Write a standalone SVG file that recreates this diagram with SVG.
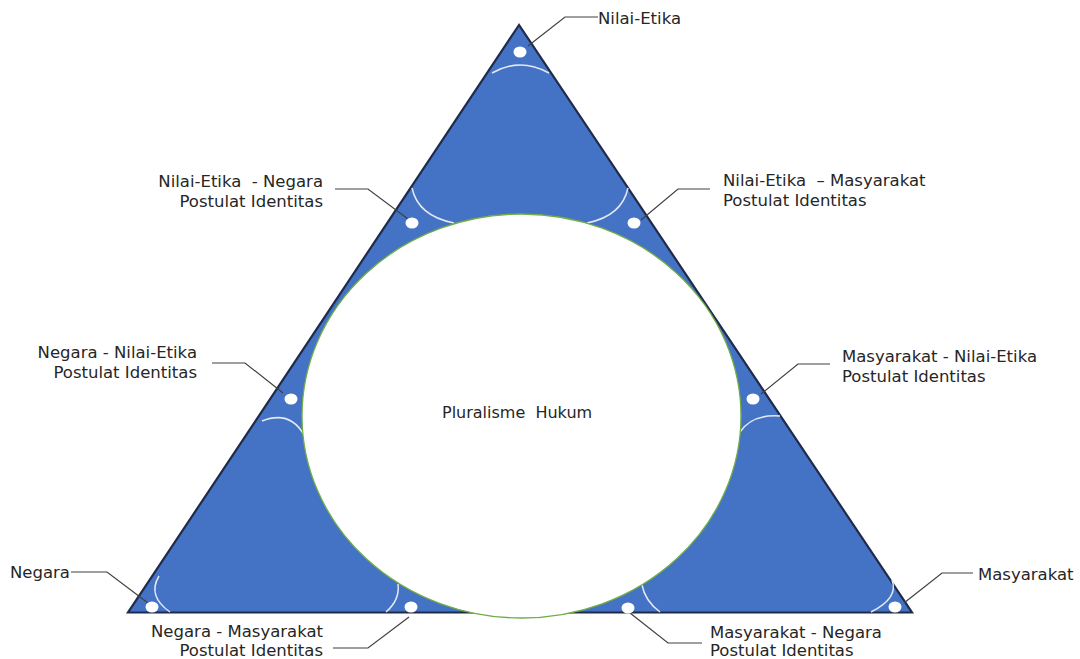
<svg xmlns="http://www.w3.org/2000/svg" width="1080" height="659" viewBox="0 0 1080 659">
<style>
text{font-family:"DejaVu Sans","Liberation Sans",sans-serif;font-size:16.5px;fill:#262626;white-space:pre}
.end{text-anchor:end}
.lead{fill:none;stroke:#404040;stroke-width:1.2}
.arc{fill:none;stroke:#E4E9F2;stroke-width:1.5}
.dot{fill:#FFFFFF}
</style>
<rect width="1080" height="659" fill="#FFFFFF"/>
<g id="triangle">
<polygon points="519,25 128,612.5 912,612.5" fill="#4472C4" stroke="#1F2B4A" stroke-width="2.2" stroke-linejoin="miter"/>
</g>
<g id="arcs">
<path class="arc" d="M492,73 Q520,57 549,73"/>
<path class="arc" d="M412,188 Q418,216 454,223"/>
<path class="arc" d="M628,188 Q622,216 587,223"/>
<path class="arc" d="M262,421 Q290,410 304,435"/>
<path class="arc" d="M740,432 Q752,414 780,416"/>
<path class="arc" d="M159,576 Q147,596 170,612"/>
<path class="arc" d="M892,580 Q899,598 871,612"/>
<path class="arc" d="M398,584 Q400,600 386,612"/>
<path class="arc" d="M642,585 Q645,601 660,612"/>
</g>
<g id="center">
<ellipse cx="521.5" cy="416" rx="219.5" ry="202" fill="#FFFFFF" stroke="#70AD47" stroke-width="1.3"/>
<text x="442" y="418" style="font-size:16px">Pluralisme  Hukum</text>
</g>
<g id="connectors">
<polyline class="lead" points="598,17 565,17 528,46"/>
<polyline class="lead" points="335,189 368,189 408,219"/>
<polyline class="lead" points="710,189 678,189 641,220"/>
<polyline class="lead" points="212,363 245,363 283,393"/>
<polyline class="lead" points="830,364 798,364 761,394"/>
<polyline class="lead" points="71,572 107,572 148,603"/>
<polyline class="lead" points="973,573 942,573 904,603"/>
<polyline class="lead" points="333,648 368,648 409,617"/>
<polyline class="lead" points="702,643 668,643 630,613"/>
</g>
<g id="node-nilai-etika">
<ellipse class="dot" cx="520" cy="52" rx="6.5" ry="5.5"/>
<text x="598" y="24">Nilai-Etika</text>
</g>
<g id="node-nilai-negara">
<ellipse class="dot" cx="412" cy="223" rx="6.5" ry="5.5"/>
<text class="end" x="323" y="187">Nilai-Etika  - Negara</text>
<text class="end" x="323" y="207">Postulat Identitas</text>
</g>
<g id="node-nilai-masyarakat">
<ellipse class="dot" cx="634" cy="223" rx="6.5" ry="5.5"/>
<text x="723" y="186">Nilai-Etika  – Masyarakat</text>
<text x="723" y="206">Postulat Identitas</text>
</g>
<g id="node-negara-nilai">
<ellipse class="dot" cx="291" cy="399" rx="6.5" ry="5.5"/>
<text class="end" x="197" y="358">Negara - Nilai-Etika</text>
<text class="end" x="197" y="378">Postulat Identitas</text>
</g>
<g id="node-masyarakat-nilai">
<ellipse class="dot" cx="753" cy="399" rx="6.5" ry="5.5"/>
<text x="842" y="362">Masyarakat - Nilai-Etika</text>
<text x="842" y="382">Postulat Identitas</text>
</g>
<g id="node-negara">
<ellipse class="dot" cx="152" cy="607" rx="6.5" ry="5.5"/>
<text x="10" y="578">Negara</text>
</g>
<g id="node-masyarakat">
<ellipse class="dot" cx="895" cy="607" rx="6.5" ry="5.5"/>
<text x="978" y="580">Masyarakat</text>
</g>
<g id="node-negara-masyarakat">
<ellipse class="dot" cx="411" cy="607" rx="6.5" ry="5.5"/>
<text class="end" x="323" y="637">Negara - Masyarakat</text>
<text class="end" x="323" y="656">Postulat Identitas</text>
</g>
<g id="node-masyarakat-negara">
<ellipse class="dot" cx="628" cy="608" rx="6.5" ry="5.5"/>
<text x="710" y="638">Masyarakat - Negara</text>
<text x="710" y="656">Postulat Identitas</text>
</g>
</svg>
